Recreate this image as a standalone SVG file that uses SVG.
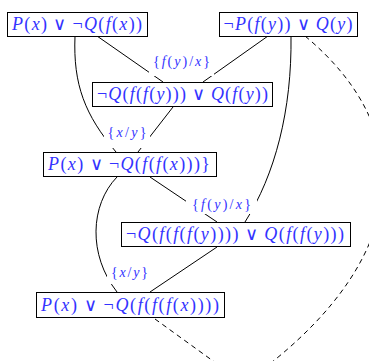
<svg xmlns="http://www.w3.org/2000/svg" width="369" height="361" viewBox="0 0 369 361">
<style>
.box{fill:#fff;stroke:#000;stroke-width:1}
.t{font-family:"Liberation Serif","Times New Roman",serif;font-size:18px;fill:#3333ff}
.l{font-family:"Liberation Serif","Times New Roman",serif;font-size:14px;fill:#3333ff}
.i{font-style:italic}
.e{fill:none;stroke:#000;stroke-width:1}
.d{fill:none;stroke:#000;stroke-width:1;stroke-dasharray:5 4}
.bg{fill:#fff}
</style>
<rect width="369" height="361" fill="#fff"/>
<g id="connectors">
<path class="e" d="M75 36 C73 85 85 115 116 152"/>
<path class="e" d="M97 36 L163 82"/>
<path class="e" d="M268 36 L203 82"/>
<path class="e" d="M173 107 L138 152"/>
<path class="e" d="M291 36 C292 110 275 175 245 222"/>
<path class="e" d="M150 177 L217 222"/>
<path class="e" d="M117 177 C90 205 88 255 117 292"/>
<path class="e" d="M217 247 L150 292"/>
<path class="d" d="M305 36 C418 130 412 255 262 370"/>
<path class="d" d="M155 319 L220 366"/>
</g>
<g id="label1"><rect class="bg" x="149" y="50" width="65" height="26"/><text class="l" x="181.5" y="66" text-anchor="middle" textLength="57" lengthAdjust="spacing">{<tspan class="i">f</tspan>(<tspan class="i">y</tspan>)/<tspan class="i">x</tspan>}</text></g>
<g id="label2"><rect class="bg" x="104" y="121" width="46" height="27"/><text class="l" x="127" y="137" text-anchor="middle" textLength="39" lengthAdjust="spacing">{<tspan class="i">x</tspan>/<tspan class="i">y</tspan>}</text></g>
<g id="label3"><rect class="bg" x="186" y="194" width="71" height="20"/><text class="l" x="221.5" y="209" text-anchor="middle" textLength="59" lengthAdjust="spacing">{<tspan class="i">f</tspan>(<tspan class="i">y</tspan>)/<tspan class="i">x</tspan>}</text></g>
<g id="label4"><rect class="bg" x="107" y="262" width="44" height="22"/><text class="l" x="129.5" y="277" text-anchor="middle" textLength="37" lengthAdjust="spacing">{<tspan class="i">x</tspan>/<tspan class="i">y</tspan>}</text></g>
<g id="n1"><rect class="box" x="7.5" y="12.5" width="140" height="24"/><text class="t" x="77" y="30" text-anchor="middle" textLength="130" lengthAdjust="spacing"><tspan class="i">P</tspan>(<tspan class="i">x</tspan>)&#8201;∨&#8201;¬<tspan class="i">Q</tspan>(<tspan class="i">f</tspan>(<tspan class="i">x</tspan>))</text></g>
<g id="n2"><rect class="box" x="219.5" y="12.5" width="138" height="24"/><text class="t" x="288" y="30" text-anchor="middle" textLength="129" lengthAdjust="spacing">¬<tspan class="i">P</tspan>(<tspan class="i">f</tspan>(<tspan class="i">y</tspan>))&#8201;∨&#8201;<tspan class="i">Q</tspan>(<tspan class="i">y</tspan>)</text></g>
<g id="n3"><rect class="box" x="92.5" y="82.5" width="180" height="24"/><text class="t" x="182.5" y="100" text-anchor="middle" textLength="171" lengthAdjust="spacing">¬<tspan class="i">Q</tspan>(<tspan class="i">f</tspan>(<tspan class="i">f</tspan>(<tspan class="i">y</tspan>)))&#8201;∨&#8201;<tspan class="i">Q</tspan>(<tspan class="i">f</tspan>(<tspan class="i">y</tspan>))</text></g>
<g id="n4"><rect class="box" x="43.5" y="152.5" width="173" height="24"/><text class="t" x="129" y="170" text-anchor="middle" textLength="162" lengthAdjust="spacing"><tspan class="i">P</tspan>(<tspan class="i">x</tspan>)&#8201;∨&#8201;¬<tspan class="i">Q</tspan>(<tspan class="i">f</tspan>(<tspan class="i">f</tspan>(<tspan class="i">x</tspan>)))}</text></g>
<g id="n5"><rect class="box" x="121.5" y="222.5" width="229" height="24"/><text class="t" x="235" y="240" text-anchor="middle" textLength="218" lengthAdjust="spacing">¬<tspan class="i">Q</tspan>(<tspan class="i">f</tspan>(<tspan class="i">f</tspan>(<tspan class="i">f</tspan>(<tspan class="i">y</tspan>))))&#8201;∨&#8201;<tspan class="i">Q</tspan>(<tspan class="i">f</tspan>(<tspan class="i">f</tspan>(<tspan class="i">y</tspan>)))</text></g>
<g id="n6"><rect class="box" x="36.5" y="292.5" width="188" height="25"/><text class="t" x="130" y="310.5" text-anchor="middle" textLength="178" lengthAdjust="spacing"><tspan class="i">P</tspan>(<tspan class="i">x</tspan>)&#8201;∨&#8201;¬<tspan class="i">Q</tspan>(<tspan class="i">f</tspan>(<tspan class="i">f</tspan>(<tspan class="i">f</tspan>(<tspan class="i">x</tspan>))))</text></g>
</svg>
